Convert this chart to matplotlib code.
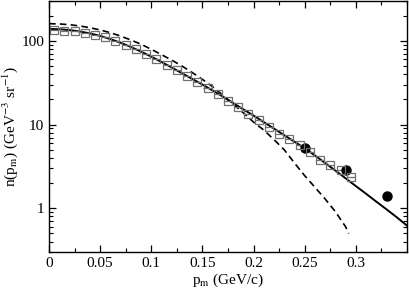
import numpy as np
import matplotlib
matplotlib.use("Agg")
import matplotlib.pyplot as plt
from matplotlib.ticker import FixedLocator, LogLocator, MultipleLocator, NullFormatter

plt.rcParams['font.family'] = ['Liberation Serif', 'DejaVu Serif']
plt.rcParams['mathtext.fontset'] = 'stix'

# ---- data ----
sq_x = [0.005, 0.015, 0.025, 0.035, 0.045, 0.055, 0.065, 0.075, 0.085, 0.095,
        0.105, 0.115, 0.125, 0.135, 0.145, 0.155, 0.165, 0.175, 0.185, 0.195,
        0.205, 0.215, 0.225, 0.235, 0.245, 0.255, 0.265, 0.275, 0.285, 0.295]
sq_y = [135, 133, 130, 125, 118, 110, 100, 89.5, 79.4, 69.7,
        60.5, 52.0, 44.7, 38.0, 32.5, 27.7, 23.4, 19.1, 16.2, 13.3,
        11.3, 9.4, 7.8, 6.7, 5.7, 4.7, 3.76, 3.27, 2.86, 2.34]

circ_x = [0.25, 0.29, 0.33]
circ_y = [5.2, 2.83, 1.40]

solid_x = [0.00, 0.01, 0.02, 0.03, 0.04, 0.05, 0.06, 0.07, 0.08, 0.09,
           0.10, 0.11, 0.12, 0.13, 0.14, 0.15, 0.16, 0.17, 0.18, 0.19,
           0.20, 0.21, 0.22, 0.23, 0.24, 0.25, 0.26, 0.27, 0.28, 0.29,
           0.30, 0.31, 0.32, 0.33, 0.34, 0.35]
solid_y = [139.0, 138.0, 134.9, 129.7, 123.0, 114.8, 105.2, 95.1, 84.7, 74.5,
           64.9, 56.0, 48.1, 41.1, 35.1, 30.1, 25.5, 21.6, 18.1, 15.2,
           12.8, 10.7, 8.95, 7.46, 6.24, 5.22, 4.27, 3.47, 2.82, 2.28,
           1.84, 1.49, 1.20, 0.97, 0.78, 0.62]

dash_x = [0.00, 0.01, 0.02, 0.03, 0.04, 0.05, 0.06, 0.07, 0.08, 0.09,
          0.10, 0.11, 0.12, 0.13, 0.14, 0.15, 0.16, 0.17, 0.18, 0.19,
          0.20, 0.21, 0.22, 0.23, 0.24, 0.25, 0.26, 0.27, 0.28, 0.29, 0.293]
dash_y = [160.7, 159.6, 156.3, 151.0, 143.9, 135.2, 125.3, 114.3, 102.6, 91.2,
          79.4, 68.5, 58.9, 50.1, 41.9, 34.7, 28.3, 22.4, 17.6, 13.8,
          10.7, 8.6, 6.6, 5.0, 3.47, 2.45, 1.78, 1.29, 0.91, 0.60, 0.50]

x_ticks = [0, 0.05, 0.1, 0.15, 0.2, 0.25, 0.3]
x_tick_labels = ['0', '0.05', '0.1', '0.15', '0.2', '0.25', '0.3']
y_ticks = [1, 10, 100]
y_tick_labels = ['1', '10', '100']

# ---- figure ----
fig = plt.figure(figsize=(4.09, 2.91), dpi=100)
ax = fig.add_axes([49/409, 1 - 252/291, (407-49)/409, (252-1)/291])

ax.plot(dash_x, dash_y, color='black', lw=1.2, ls=(0, (4, 2.5)))
ax.plot(solid_x, solid_y, color='black', lw=1.4)
ax.errorbar(sq_x, sq_y, xerr=0.004, fmt='s', ms=6, mfc='none', mec='#707070',
            mew=0.9, ecolor='#707070', elinewidth=0.9, capsize=0)
ax.plot(circ_x, circ_y, 'o', color='black', ms=6.5)

ax.set_yscale('log')
ax.set_xlim(0, 0.35)
ax.set_ylim(0.3, 300)

ax.xaxis.set_major_locator(FixedLocator(x_ticks))
ax.set_xticklabels(x_tick_labels)
ax.xaxis.set_minor_locator(MultipleLocator(0.025))
ax.yaxis.set_major_locator(FixedLocator(y_ticks))
ax.set_yticklabels(y_tick_labels)
ax.yaxis.set_minor_locator(LogLocator(base=10, subs=np.arange(2, 10)))
ax.yaxis.set_minor_formatter(NullFormatter())

ax.tick_params(which='both', direction='in', top=True, right=True, labelsize=11)
ax.tick_params(which='major', length=5, width=0.9)
ax.tick_params(which='minor', length=3, width=0.8)
for s in ax.spines.values():
    s.set_linewidth(1.0)

ax.set_xlabel(r'p$_\mathrm{m}$ (GeV/c)', fontsize=11, labelpad=1)
ax.set_ylabel(r'n(p$_\mathrm{m}$) (GeV$^{-3}$ sr$^{-1}$)', fontsize=11)
ax.yaxis.set_label_coords(-0.08, 0.5)

fig.savefig('out.png', dpi=100)
